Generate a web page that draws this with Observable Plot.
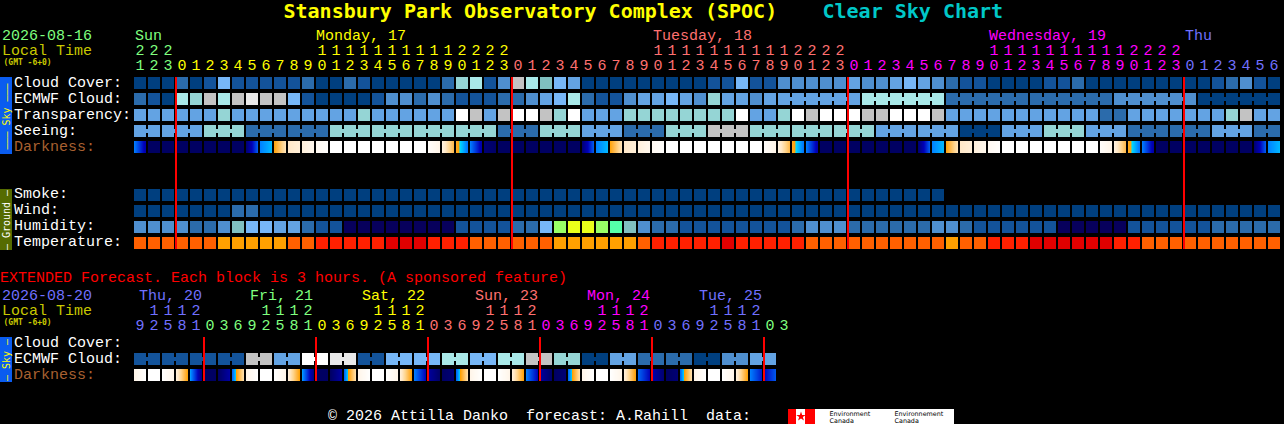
<!DOCTYPE html>
<html>
<head>
<meta charset="utf-8">
<script src="https://cdn.jsdelivr.net/npm/d3@7"></script>
<script src="https://cdn.jsdelivr.net/npm/@observablehq/plot@0.6"></script>
<style>
html,body{margin:0;padding:0;background:#000;overflow:hidden}
svg{display:block}
</style>
</head>
<body>
<div id="chart"></div>
<script>
// Shared block colours, referred to by index in the series below
const levelColors = [
  "#003F7F","#13539A","#2B6BAB","#4F8FCF","#63A3E3","#77B7F7",
  "#95D5D5","#A9E9E9","#C3C3C3","#E9E9E9","#FFFFFF","#80C0C0",
  "#07005C","#99FF66","#EAFF1A","#55FFAA",
  "#E00000","#FF2000","#FF6000","#FFA000"
];

// Hourly forecast
const mainHours = [21,22,23,
  0,1,2,3,4,5,6,7,8,9,10,11,12,13,14,15,16,17,18,19,20,21,22,23,
  0,1,2,3,4,5,6,7,8,9,10,11,12,13,14,15,16,17,18,19,20,21,22,23,
  0,1,2,3,4,5,6,7,8,9,10,11,12,13,14,15,16,17,18,19,20,21,22,23,
  0,1,2,3,4,5,6];
const cloudCover = [
  0,0,0,2,0,1,5,1,1,1,
  1,1,2,0,0,2,1,0,0,0,
  0,0,2,6,7,1,3,8,7,11,
  5,4,0,0,0,0,0,0,0,0,
  0,1,1,5,1,1,3,3,3,3,
  3,4,3,3,4,5,4,3,2,1,
  1,0,0,0,0,1,1,2,0,0,
  0,0,0,0,0,0,0,1,2,3,
  1,0];
const ecmwfCloud = [
  2,1,0,7,6,8,7,8,9,8,
  8,5,1,0,0,0,0,1,3,3,
  2,3,2,1,1,1,2,2,3,4,
  5,7,2,1,1,3,4,4,5,4,
  3,6,4,4,3,4,4,4,4,4,
  4,4,7,7,7,7,7,7,2,2,
  2,2,2,2,2,2,2,2,2,2,
  3,3,3,3,3,3,0,0,0,0,
  0,0];
const ecmwfGroupSizes = [
  1,1,1,1,1,1,1,1,1,1,1,1,1,1,1,1,1,1,1,1,1,1,1,
  1,1,1,1,1,1,1,1,1,1,1,1,1,1,1,1,1,1,1,1,1,1,1,
  6,6,6,6,6,6];
const transparency = [
  4,4,4,4,4,4,6,4,4,4,
  4,4,4,4,4,4,6,4,4,4,
  4,4,4,10,8,4,8,10,10,8,
  6,10,4,4,4,6,6,6,6,6,
  6,6,6,10,4,4,6,10,8,10,
  10,10,8,8,10,10,10,8,4,4,
  4,4,4,4,4,4,4,4,4,2,
  2,4,4,4,4,4,4,4,6,8,
  4,4];
const seeingGroupSizes = [2,3,3,3,3,3,3,3,3,3,3,3,3,3,3,3,3,3,3,3,3,3,3,3,3,3,3,2];
const seeingValues     = [4,4,6,2,2,6,6,6,6,2,6,4,2,6,8,6,6,6,4,4,0,4,6,4,2,2,4,2];
const darknessStart = [
  4,.2,.2,.2,.2,.2,.2,.2,.5,4,
  5.1,8,8.6,9.4,10,10,10,10,10,10,
  10,9.8,8.8,5.5,4,.6,.2,.2,.2,.2,
  .2,.2,.5,4,5.1,8,8.6,9.4,10,10,
  10,10,10,10,10,9.8,8.8,5.5,4,.2,
  .2,.2,.2,.2,.2,.2,.5,4,5.1,8,
  8.6,9.4,10,10,10,10,10,10,10,9.8,
  8.8,5.5,4,.2,.2,.2,.2,.2,.2,.2,
  .5,4];
const darknessEnd = [
  1.6,.2,.2,.2,.2,.2,.2,.2,3.5,4.6,
  7.8,8.5,9.2,9.9,10,10,10,10,10,10,
  10,9,6,3.8,1.6,.3,.2,.2,.2,.2,
  .2,.2,3.5,4.6,7.8,8.5,9.2,9.9,10,10,
  10,10,10,10,10,9,6,3.8,1.6,.2,
  .2,.2,.2,.2,.2,.2,3.5,4.6,7.8,8.5,
  9.2,9.9,10,10,10,10,10,10,10,9,
  6,3.8,1.6,.2,.2,.2,.2,.2,.2,.2,
  3.5,4.6];
const smoke = [
  0,0,0,0,0,0,0,0,0,0,0,0,0,0,0,0,0,0,0,0,
  0,0,0,0,0,0,0,0,0,0,0,0,0,0,0,0,0,0,0,0,
  0,0,0,0,0,0,0,0,0,0,0,0,0,0,0,0,0,0];
const wind = [
  0,0,0,0,0,0,0,2,2,0,
  0,0,0,0,0,0,0,0,0,0,
  0,0,0,0,0,0,0,0,0,0,
  0,0,0,0,0,0,0,0,0,0,
  0,0,0,0,0,0,0,0,0,0,
  0,0,0,0,0,0,0,0,0,0,
  0,0,0,0,0,0,0,0,0,0,
  0,0,0,0,0,0,0,0,0,0,
  0,0];
const humidity = [
  3,3,3,3,2,2,3,11,5,5,
  4,4,2,1,1,12,12,12,12,12,
  12,12,12,1,1,1,1,2,2,5,
  13,14,14,13,15,11,3,2,2,1,
  1,1,1,1,1,1,1,2,3,3,
  3,2,2,2,2,2,2,3,3,2,
  1,1,1,1,1,1,12,12,12,12,
  12,1,1,1,1,1,1,2,2,2,
  2,2];
const temperature = [
  18,18,18,18,18,18,19,19,19,19,
  19,18,18,17,17,17,17,17,16,16,
  16,17,17,17,18,18,18,18,18,18,
  19,19,19,19,19,19,18,17,17,17,
  17,17,16,17,17,17,17,17,18,18,
  18,18,18,18,18,18,18,18,19,18,
  18,17,17,17,16,16,16,16,16,16,
  17,17,18,18,18,18,18,18,18,18,
  18,18];
const mainMidnights = [3,27,51,75];

// Extended forecast
const extHours = [9,12,15,18,21,
  0,3,6,9,12,15,18,21, 0,3,6,9,12,15,18,21, 0,3,6,9,12,15,18,21,
  0,3,6,9,12,15,18,21, 0,3,6,9,12,15,18,21, 0,3];
const extEcmwfPairs = [1,1,1,1,8,4,10,9,1,5,5,7,5,7,8,6,0,4,2,2,0,3,4];
const extDarknessStart = [
  9,10,10,8.6,4.4,.2,.2,3.5, 9,10,10,8.6,4.4,.2,.2,3.5,
  9,10,10,8.6,4,1.5,.2,3.5, 9,10,10,8.6,4,1.5,.2,3.5,
  9,10,10,8.6,3.6,1.8,.2,3.5, 9,10,10,8.6,4,2];
const extDarknessEnd = [
  10,10,9,5,.8,.2,1.6,7.6, 10,10,9,5,.8,.2,1.6,7.6,
  10,10,9,5,2,.3,.6,7.6, 10,10,9,5,2,.3,.6,7.6,
  10,10,9,5,2,.5,.6,7.6, 10,10,9,5,2.4,3.4];
const extMidnights = [5,13,21,29,37,45];

// Headers and labels
const dayColors = {sun:"#7FFF7F", mon:"#FFFF00", tue:"#FF7070", wed:"#FF00FF", thu:"#7070FF", sat:"#FFFF00"};
const mainDays = [
  {label:"Sun", at:135, color:dayColors.sun},
  {label:"Monday, 17", at:316, color:dayColors.mon},
  {label:"Tuesday, 18", at:653, color:dayColors.tue},
  {label:"Wednesday, 19", at:989, color:dayColors.wed},
  {label:"Thu", at:1185, color:dayColors.thu}
];
const mainDaySpans = [[0,3,dayColors.sun],[3,27,dayColors.mon],[27,51,dayColors.tue],[51,75,dayColors.wed],[75,82,dayColors.thu]];
const extDays = [
  {label:"Thu, 20", at:139, color:dayColors.thu},
  {label:"Fri, 21", at:250, color:dayColors.sun},
  {label:"Sat, 22", at:362, color:dayColors.sat},
  {label:"Sun, 23", at:475, color:dayColors.tue},
  {label:"Mon, 24", at:587, color:dayColors.wed},
  {label:"Tue, 25", at:699, color:dayColors.thu}
];
const extDaySpans = [[0,5,dayColors.thu],[5,13,dayColors.sun],[13,21,dayColors.sat],[21,29,dayColors.tue],[29,37,dayColors.wed],[37,45,dayColors.thu],[45,47,dayColors.sun]];

// ---------- layout helpers: x scale is block columns, y scale is rows of 16px ----------
const colOf = px => (px - 134) / 14;
const rowOf = px => (px - 77) / 16;
const BLOCK = 12 / 14, BLOCKH = 12 / 16;
const EXT_ROW = rowOf(337);

const cells = [], bridges = [], slices = [];
function addRow(values, row) {
  values.forEach((v, col) => cells.push({col, row, fill: levelColors[v]}));
}
function addGrouped(values, sizes, row) {
  let col = 0;
  sizes.forEach((n) => {
    const v = values[col];
    for (let k = 0; k < n; k++) {
      cells.push({col: col + k, row, fill: levelColors[v]});
      if (k < n - 1) bridges.push({col: col + k, row, fill: levelColors[v]});
    }
    col += n;
  });
}
addRow(cloudCover, 0);
addGrouped(ecmwfCloud, ecmwfGroupSizes, 1);
addRow(transparency, 2);
{
  let c = 0;
  seeingGroupSizes.forEach((n, g) => {
    for (let k = 0; k < n; k++) {
      cells.push({col: c + k, row: 3, fill: levelColors[seeingValues[g]]});
      if (k < n - 1) bridges.push({col: c + k, row: 3, fill: levelColors[seeingValues[g]]});
    }
    c += n;
  });
}
addRow(smoke, 7);
addRow(wind, 8);
addRow(humidity, 9);
addRow(temperature, 10);
extEcmwfPairs.forEach((v, p) => {
  cells.push({col: 2 * p, row: EXT_ROW + 1, fill: levelColors[v]});
  cells.push({col: 2 * p + 1, row: EXT_ROW + 1, fill: levelColors[v]});
  bridges.push({col: 2 * p, row: EXT_ROW + 1, fill: levelColors[v]});
});

// Darkness colour ramp: navy night, blue twilight, cyan, jump to orange dusk, cream, white
const rampAt = [0, 1, 2, 3, 4, 5, 5.01, 6, 7, 8, 9, 10];
const rampColors = ["#000058","#000088","#0000B8","#0040E0","#0080FF","#00E0FF","#FFA000","#FFB848","#FFD48C","#FFE8C8","#FFF5E8","#FFFFFF"];
const ramp = d3.scaleLinear().domain(rampAt).range(rampColors).clamp(true);
function addDarkness(starts, ends, row) {
  starts.forEach((s, col) => {
    for (let k = 0; k < 12; k++) {
      slices.push({x1: col + k / 14, x2: col + (k + 1) / 14, row, fill: ramp(s + (ends[col] - s) * (k + .5) / 12)});
    }
  });
}
addDarkness(darknessStart, darknessEnd, 4);
addDarkness(extDarknessStart, extDarknessEnd, EXT_ROW + 2);

// Text records
const text = [];
const T = (label, xpx, ypx, color) => text.push({label, x: colOf(xpx), y: rowOf(ypx), color});
T("2026-08-16", 2, 40, "#7FFF7F");
T("Local Time", 2, 55, "#C8C800");
T("2026-08-20", 2, 300, "#7070FF");
T("Local Time", 2, 315, "#C8C800");
[["Cloud Cover:",87],["ECMWF Cloud:",103],["Transparency:",119],["Seeing:",135]].forEach(([l,y]) => T(l,14,y,"#FFFFFF"));
T("Darkness:", 14, 151, "#A86030");
[["Smoke:",198],["Wind:",214],["Humidity:",230],["Temperature:",246]].forEach(([l,y]) => T(l,14,y,"#FFFFFF"));
T("Cloud Cover:", 14, 347, "#FFFFFF");
T("ECMWF Cloud:", 14, 363, "#FFFFFF");
T("Darkness:", 14, 379, "#A86030");
T("EXTENDED Forecast. Each block is 3 hours. (A sponsored feature)", 0, 282, "#FF0000");
T("\u00A9 2026 Attilla Danko  forecast: A.Rahill  data:", 328, 420, "#FFFFFF");
mainDays.forEach(d => T(d.label, d.at, 40, d.color));
extDays.forEach(d => T(d.label, d.at, 300, d.color));

const ticks = [];
function addTicks(hours, spans, tensY, onesY) {
  hours.forEach((h, col) => {
    const color = spans.find(s => col >= s[0] && col < s[1])[2];
    ticks.push({label: String(h % 10), col: col + 6 / 14, y: rowOf(onesY), color});
    if (h >= 10) ticks.push({label: String(Math.floor(h / 10)), col: col + 6 / 14, y: rowOf(tensY), color});
  });
}
addTicks(mainHours, mainDaySpans, 55, 70);
addTicks(extHours, extDaySpans, 315, 330);

const font = "'Liberation Mono', 'DejaVu Sans Mono', monospace";
const boldFont = "'DejaVu Sans Mono', monospace";
const sponsorFont = "'DejaVu Sans', sans-serif";
const bars = [
  {y1:77, y2:154, fill:"#0A5CF0"},
  {y1:189, y2:250, fill:"#556B00"},
  {y1:337, y2:382, fill:"#0A5CF0"}
];
const barLabels = [
  {label:"\u2013\u2013\u2013 Sky \u2013\u2013\u2013", y:116, color:"#FFFF00"},
  {label:"\u2013 Ground \u2013", y:219.5, color:"#FFFFFF"},
  {label:"\u2013 Sky \u2013", y:359.5, color:"#FFFF00"}
];

const chart = Plot.plot({
  width: 1284, height: 424,
  margin: 0,
  style: {background: "#000", display: "block"},
  x: {type: "linear", domain: [0, 1], range: [134, 148], axis: null},
  y: {type: "linear", domain: [0, 1], range: [77, 93], axis: null},
  color: {type: "identity"},
  marks: [
    // coloured blocks, 3-hour/6-hour joins and darkness gradients
    Plot.rect(cells, {x1: "col", x2: d => d.col + BLOCK, y1: "row", y2: d => d.row + BLOCKH, fill: "fill", shapeRendering: "crispEdges"}),
    Plot.rect(bridges, {x1: d => d.col + BLOCK, x2: d => d.col + 1, y1: d => d.row + .25, y2: d => d.row + .5, fill: "fill", shapeRendering: "crispEdges"}),
    Plot.rect(slices, {x1: "x1", x2: "x2", y1: "row", y2: d => d.row + BLOCKH, fill: "fill", shapeRendering: "crispEdges"}),
    // midnight markers
    Plot.rect(mainMidnights, {x1: d => d - 1 / 14, x2: d => d + 1 / 14, y1: rowOf(77), y2: rowOf(249), fill: "#FF0000", shapeRendering: "crispEdges"}),
    Plot.rect(extMidnights, {x1: d => d - 1 / 14, x2: d => d + 1 / 14, y1: rowOf(337), y2: rowOf(381), fill: "#FF0000", shapeRendering: "crispEdges"}),
    // side bars
    Plot.rect(bars, {x1: colOf(0), x2: colOf(12), y1: d => rowOf(d.y1), y2: d => rowOf(d.y2), fill: "fill", shapeRendering: "crispEdges"}),
    Plot.text(barLabels, {x: colOf(6), y: d => rowOf(d.y), text: "label", fill: "color", rotate: -90, fontFamily: boldFont, fontSize: 10, textAnchor: "middle"}),
    // title
    Plot.text(["Stansbury Park Observatory Complex (SPOC)"], {x: colOf(283), y: rowOf(18), text: d => d, fill: "#FFFF00", fontFamily: boldFont, fontSize: 20, fontWeight: "bold", textAnchor: "start", lineAnchor: "bottom", dy: -0.5}),
    Plot.text(["Clear Sky Chart"], {x: colOf(822), y: rowOf(18), text: d => d, fill: "#00C8C8", fontFamily: boldFont, fontSize: 20, fontWeight: "bold", textAnchor: "start", lineAnchor: "bottom", dy: -0.5}),
    // labels
    Plot.text(text, {x: "x", y: "y", text: "label", fill: "color", fontFamily: font, fontSize: 15, textAnchor: "start", lineAnchor: "bottom", dy: -0.5, dx: -0.5}),
    Plot.text(ticks, {x: "col", y: "y", text: "label", fill: "color", fontFamily: font, fontSize: 15, textAnchor: "middle", lineAnchor: "bottom", dy: -0.5, dx: -0.5}),
    Plot.text([64, 324], {x: colOf(3), y: d => rowOf(d), text: () => "(GMT -6+0)", fill: "#C8C800", fontFamily: boldFont, fontSize: 8, fontWeight: "bold", textAnchor: "start", lineAnchor: "bottom"}),
    // footer sponsor block
    Plot.rect([0], {x1: colOf(788), x2: colOf(954), y1: rowOf(409), y2: rowOf(424), fill: "#FFFFFF", shapeRendering: "crispEdges"}),
    Plot.rect([[788,796],[805,815]], {x1: d => colOf(d[0]), x2: d => colOf(d[1]), y1: rowOf(409), y2: rowOf(424), fill: "#FF0000", shapeRendering: "crispEdges"}),
    Plot.dot([0], {x: colOf(800.5), y: rowOf(416), r: 3, symbol: "star", fill: "#FF0000"}),
    Plot.text([[829,"Environment"],[894,"Environnement"]], {x: d => colOf(d[0]), y: rowOf(415), text: d => d[1], fill: "#000", fontFamily: sponsorFont, fontSize: 6.4, textAnchor: "start", lineAnchor: "bottom"}),
    Plot.text([829,894], {x: d => colOf(d), y: rowOf(422.5), text: () => "Canada", fill: "#000", fontFamily: sponsorFont, fontSize: 6.4, textAnchor: "start", lineAnchor: "bottom"})
  ]
});
document.getElementById("chart").appendChild(chart);
</script>
</body>
</html>
